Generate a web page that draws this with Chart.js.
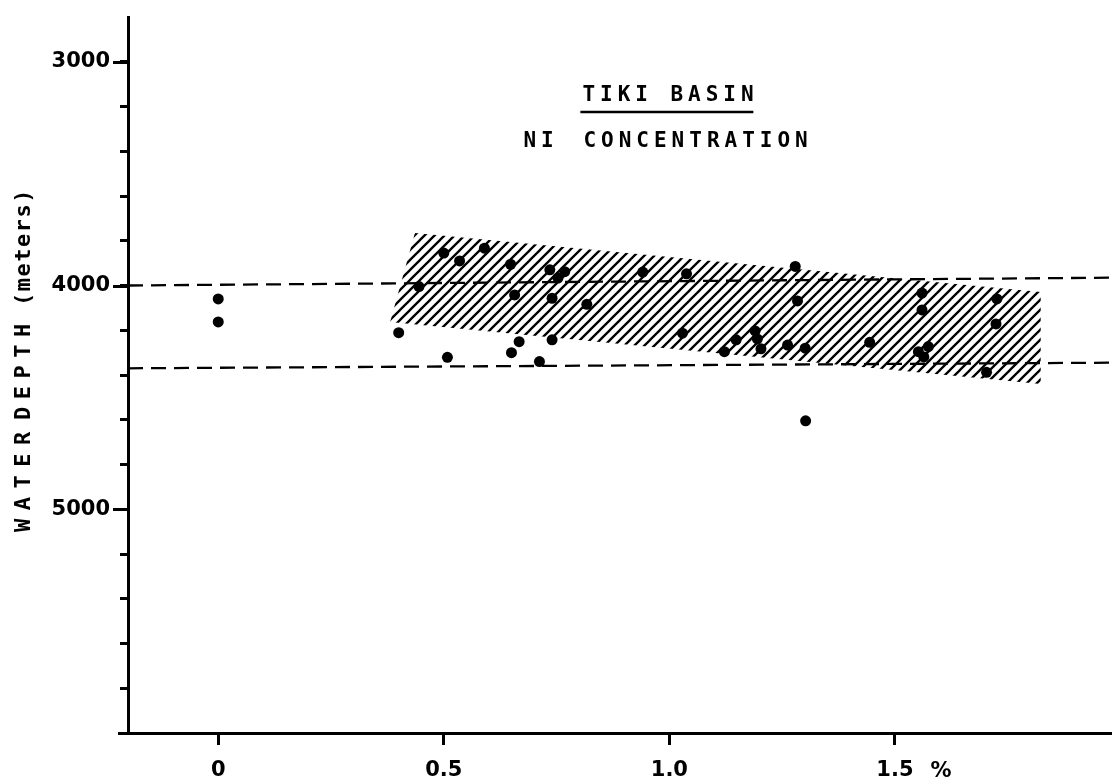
<!DOCTYPE html>
<html>
<head>
<meta charset="utf-8">
<title>Tiki Basin - Ni concentration</title>
<script src="https://cdn.jsdelivr.net/npm/chart.js@4.4.1/dist/chart.umd.min.js"></script>
<style>
  html, body { margin: 0; padding: 0; background: #fff; }
  #wrap { width: 1117px; height: 781px; }
</style>
</head>
<body>
<div id="wrap"><canvas id="niChart"></canvas></div>
<script>
// Ni concentration (%) vs water depth (m), one entry per sample
const niPercent = [0, 0, 0.40, 0.445, 0.50, 0.59, 0.535, 0.648, 0.657, 0.735,
  0.768, 0.753, 0.74, 0.667, 0.74, 0.65, 0.508, 0.712, 0.817, 0.941,
  1.038, 1.029, 1.122, 1.148, 1.19, 1.195, 1.203, 1.262, 1.301, 1.279,
  1.284, 1.302, 1.444, 1.56, 1.56, 1.552, 1.574, 1.564, 1.726, 1.724, 1.703];
const depthMeters = [4060, 4163, 4211, 4005, 3855, 3833, 3890, 3905, 4042, 3930,
  3938, 3967, 4057, 4251, 4243, 4300, 4321, 4340, 4084, 3940,
  3948, 4213, 4296, 4243, 4203, 4239, 4283, 4266, 4280, 3915,
  4069, 4605, 4254, 4034, 4109, 4296, 4273, 4319, 4060, 4172, 4388];

// dashed reference depths, given at the two ends of the x range
const refX = [-0.2, 1.98];
const upperRefDepth = [4000, 3965];
const lowerRefDepth = [4370, 4345];

// corners of the hatched band
const bandX = [0.436, 1.823, 1.823, 0.381];
const bandDepth = [3765, 4029, 4440, 4163];

const xTicks = [0, 0.5, 1.0, 1.5];
const xTickLabels = ['0', '0.5', '1.0', '1.5'];
const depthLabels = [3000, 4000, 5000];

const INK = '#000';
const SANS = '"DejaVu Sans", Verdana, sans-serif';
const MONO = '"DejaVu Sans Mono", "Liberation Mono", monospace';

let hatch = null;
function makeHatch(ctx) {
  const n = 10;
  const tile = document.createElement('canvas');
  tile.width = n;
  tile.height = n;
  const c = tile.getContext('2d');
  c.strokeStyle = INK;
  c.lineWidth = 2.3;
  c.beginPath();
  c.moveTo(0, n); c.lineTo(n, 0);
  c.moveTo(-2, 2); c.lineTo(2, -2);
  c.moveTo(n - 2, n + 2); c.lineTo(n + 2, n - 2);
  c.stroke();
  return ctx.createPattern(tile, 'repeat');
}

// spaced lettering, drawn word by word
function letter(ctx, text, x, y, size, spacing) {
  ctx.font = 'bold ' + size + 'px ' + MONO;
  ctx.letterSpacing = spacing + 'px';
  ctx.fillText(text, x, y);
}

const paperPlugin = {
  id: 'paper',
  beforeDatasetsDraw(chart) {
    const { ctx, scales: { x, y } } = chart;
    if (!hatch) hatch = makeHatch(ctx);
    ctx.save();
    ctx.beginPath();
    bandX.forEach((v, i) => {
      const px = x.getPixelForValue(v);
      const py = y.getPixelForValue(bandDepth[i]);
      if (i === 0) ctx.moveTo(px, py); else ctx.lineTo(px, py);
    });
    ctx.closePath();
    ctx.fillStyle = hatch;
    ctx.fill();
    ctx.restore();
  },
  afterDraw(chart) {
    const { ctx, chartArea, scales: { x, y } } = chart;
    ctx.save();
    ctx.strokeStyle = INK;
    ctx.fillStyle = INK;

    // longer ticks at the labelled depths, and the x axis stub left of the y axis
    ctx.lineWidth = 3;
    depthLabels.forEach(d => {
      const py = Math.round(y.getPixelForValue(d)) + 0.5;
      ctx.beginPath();
      ctx.moveTo(chartArea.left - 15, py);
      ctx.lineTo(chartArea.left, py);
      ctx.stroke();
    });
    ctx.beginPath();
    ctx.moveTo(chartArea.left - 10, chartArea.bottom + 0.5);
    ctx.lineTo(chartArea.left, chartArea.bottom + 0.5);
    ctx.stroke();

    // percent sign after the last x label
    ctx.font = 'bold 21px ' + SANS;
    ctx.textAlign = 'center';
    ctx.textBaseline = 'middle';
    ctx.fillText('%', x.getPixelForValue(1.5) + 46, 772);

    // title block
    const cx = x.getPixelForValue(1.0);
    ctx.textAlign = 'left';
    letter(ctx, 'TIKI', cx - 87, 96, 21, 5);
    letter(ctx, 'BASIN', cx + 1, 96, 21, 5);
    letter(ctx, 'NI', cx - 146, 142, 21, 5);
    letter(ctx, 'CONCENTRATION', cx - 86, 142, 21, 5);
    ctx.lineWidth = 2.5;
    ctx.beginPath();
    ctx.moveTo(cx - 89, 112);
    ctx.lineTo(cx + 84, 112);
    ctx.stroke();

    // y axis title, reading upwards
    ctx.translate(24, 0);
    ctx.rotate(-Math.PI / 2);
    letter(ctx, 'WATER', -532, 0, 22, 8.5);
    letter(ctx, 'DEPTH', -420, 0, 22, 7.5);
    letter(ctx, '(meters)', -306, 0, 22, 1.5);
    ctx.restore();
  }
};

const points = niPercent.map((v, i) => ({ x: v, y: depthMeters[i] }));

new Chart(document.getElementById('niChart'), {
  type: 'scatter',
  data: {
    datasets: [
      {
        label: 'samples',
        data: points,
        pointRadius: 5.5,
        pointBackgroundColor: INK,
        pointBorderWidth: 0
      },
      {
        label: 'upper reference',
        data: refX.map((v, i) => ({ x: v, y: upperRefDepth[i] })),
        showLine: true,
        borderColor: INK,
        borderWidth: 2.3,
        borderDash: [15, 8],
        pointRadius: 0
      },
      {
        label: 'lower reference',
        data: refX.map((v, i) => ({ x: v, y: lowerRefDepth[i] })),
        showLine: true,
        borderColor: INK,
        borderWidth: 2.3,
        borderDash: [15, 8],
        pointRadius: 0
      }
    ]
  },
  options: {
    responsive: true,
    maintainAspectRatio: false,
    animation: false,
    layout: { padding: { top: 17, right: 4, left: 0, bottom: 0 } },
    plugins: {
      legend: { display: false },
      tooltip: { enabled: false }
    },
    scales: {
      x: {
        type: 'linear',
        min: -0.2,
        max: 1.98,
        afterBuildTicks: s => { s.ticks = xTicks.map(v => ({ value: v })); },
        afterFit: s => { s.height = 48; s.paddingLeft = 0; s.paddingRight = 0; },
        grid: { drawOnChartArea: false, tickLength: 12, tickWidth: 3, tickColor: INK },
        border: { color: INK, width: 3 },
        ticks: {
          color: INK,
          font: { family: SANS, weight: 'bold', size: 21 },
          padding: 13,
          maxRotation: 0,
          autoSkip: false,
          callback: v => xTickLabels[xTicks.indexOf(v)]
        }
      },
      y: {
        type: 'linear',
        reverse: true,
        min: 2800,
        max: 6000,
        afterFit: s => { s.width = 128; s.paddingTop = 0; s.paddingBottom = 0; },
        grid: {
          drawOnChartArea: false,
          tickLength: 8,
          tickWidth: 3,
          tickColor: c => (c.tick && c.tick.value === 2800 ? 'rgba(0,0,0,0)' : INK)
        },
        border: { color: INK, width: 3 },
        ticks: {
          stepSize: 200,
          autoSkip: false,
          color: INK,
          padding: 10,
          font: { family: SANS, weight: 'bold', size: 21 },
          callback: v => (depthLabels.includes(v) ? String(v) : '')
        }
      }
    }
  },
  plugins: [paperPlugin]
});
</script>
</body>
</html>
